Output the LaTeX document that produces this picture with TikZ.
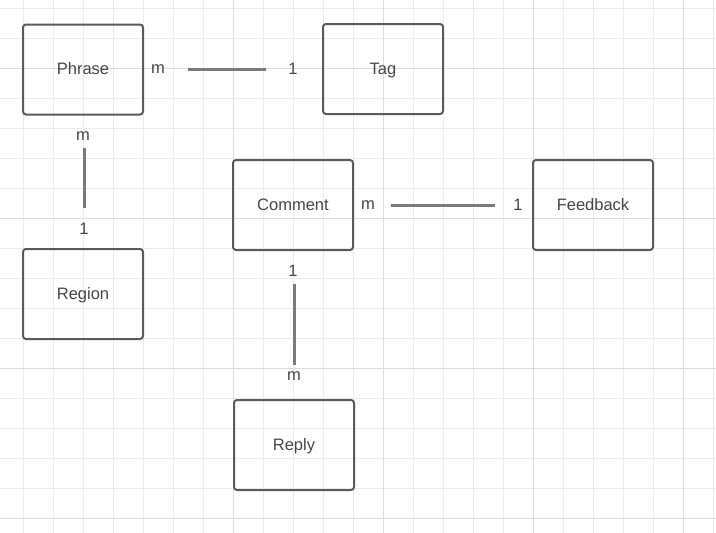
\documentclass[tikz,border=0pt]{standalone}
\usepackage{fontspec}
\setmainfont{Liberation Sans}
\definecolor{minorgrid}{HTML}{EBEBEB}
\definecolor{majorgrid}{HTML}{DCDCDC}
\definecolor{boxline}{HTML}{5A5A5A}
\definecolor{connline}{HTML}{7A7A7A}
\definecolor{txt}{HTML}{464646}
\begin{document}
\begin{tikzpicture}[x=1pt,y=-1pt,
  entity/.style={draw=boxline, line width=2pt, rounded corners=3pt, minimum width=120pt, minimum height=90pt, inner sep=0pt},
  card/.style={text=txt, inner sep=0pt, font=\fontsize{16.5}{18}\selectfont},
  title/.style={card, anchor=base},
  rel/.style={draw=connline, line width=3pt}]
\useasboundingbox (0,0) rectangle (716,533);
\fill[white] (0,0) rectangle (716,533);
% grid
\foreach \x in {23,53,...,713} \draw[minorgrid, line width=1pt] (\x,0) -- (\x,533);
\foreach \y in {8,38,...,530} \draw[minorgrid, line width=1pt] (0,\y) -- (716,\y);
\foreach \x in {233,383,533,683} \draw[majorgrid, line width=1pt] (\x,0) -- (\x,533);
\foreach \y in {68,218,368,518} \draw[majorgrid, line width=1pt] (0,\y) -- (716,\y);
% entities
\node[entity] (phrase) at (83,69.5) {};
\node[entity] (tag) at (383,69) {};
\node[entity] (comment) at (293,205) {};
\node[entity] (feedback) at (593,205) {};
\node[entity] (region) at (83,294) {};
\node[entity] (reply) at (294,445) {};
\node[title] (phraset) at ([yshift=-5pt]phrase.center) {Phrase};
\node[title] (tagt) at ([yshift=-5pt]tag.center) {Tag};
\node[title] (commentt) at ([yshift=-5pt]comment.center) {Comment};
\node[title] (feedbackt) at ([yshift=-5pt]feedback.center) {Feedback};
\node[title] (regiont) at ([yshift=-5pt]region.center) {Region};
\node[title] (replyt) at ([yshift=-5pt]reply.center) {Reply};
% cardinalities
\node[card] (pt1) at (158,69) {m};
\node[card] (pt2) at (293,69) {1};
\node[card] (pr1) at (83,136) {m};
\node[card] (pr2) at (84,229) {1};
\node[card] (cf1) at (368,205) {m};
\node[card] (cf2) at (518,205) {1};
\node[card] (cr1) at (293,271) {1};
\node[card] (cr2) at (294,376) {m};
% connector ends
\coordinate (a1) at (188,69.5);
\coordinate (a2) at (266,69.5);
\coordinate (b1) at (84,148);
\coordinate (b2) at (84,208);
\coordinate (c1) at (391,205);
\coordinate (c2) at (495,205);
\coordinate (d1) at (294,284);
\coordinate (d2) at (294,365);
\draw[rel] (a1) -- (a2);
\draw[rel] (b1) -- (b2);
\draw[rel] (c1) -- (c2);
\draw[rel] (d1) -- (d2);
\end{tikzpicture}
\end{document}
